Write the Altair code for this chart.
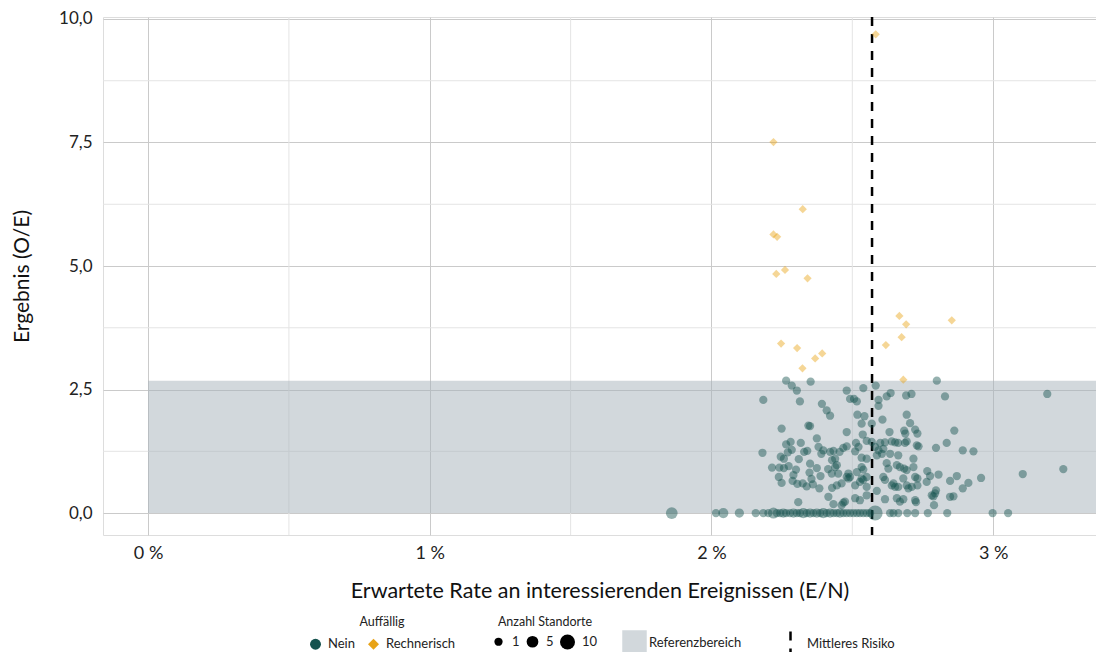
import altair as alt
import pandas as pd

FONT = "Lato"
TEAL = "#15524E"
ORANGE = "#E8A317"
BAND = "#A6B1BA"

# ---- data (x = expected rate in %, y = O/E) ----
nein_upper = [
    (2.265, 2.68), (2.285, 2.58), (2.303, 2.48), (2.352, 2.66), (2.184, 2.29), (2.314, 2.26),
    (2.392, 2.21), (2.409, 2.08), (2.421, 1.97), (2.249, 1.71), (2.344, 1.77), (2.350, 1.76),
    (2.374, 1.51), (2.480, 2.48), (2.539, 2.53), (2.583, 2.58), (2.492, 2.31), (2.506, 2.31),
    (2.516, 2.26), (2.593, 2.29), (2.593, 2.17), (2.622, 2.36), (2.636, 2.43), (2.691, 2.38),
    (2.710, 2.41), (2.800, 2.68), (2.829, 2.36), (3.192, 2.41), (2.518, 1.99), (2.543, 1.96),
    (2.607, 1.89), (2.693, 1.99), (2.705, 1.82), (2.533, 1.81), (2.569, 1.81), (2.480, 1.64),
    (2.537, 1.59), (2.632, 1.64), (2.684, 1.67), (2.688, 1.61), (2.723, 1.69), (2.731, 1.61),
    (2.862, 1.67),
]
nein_middle = [
    (2.265, 1.39), (2.281, 1.44), (2.317, 1.42), (2.181, 1.22), (2.271, 1.23), (2.285, 1.28),
    (2.329, 1.24), (2.340, 1.26), (2.390, 1.20), (2.433, 1.26), (2.246, 1.14), (2.257, 1.10),
    (2.310, 1.09), (2.428, 1.07), (2.380, 1.34), (2.397, 1.27), (2.421, 1.24), (2.455, 1.24),
    (2.468, 1.32), (2.480, 1.35), (2.510, 1.25), (2.513, 1.42), (2.522, 1.34), (2.551, 1.46),
    (2.569, 1.44), (2.581, 1.34), (2.593, 1.27), (2.610, 1.30), (2.605, 1.20), (2.599, 1.42),
    (2.616, 1.43), (2.640, 1.45), (2.652, 1.43), (2.663, 1.42), (2.687, 1.42), (2.693, 1.45),
    (2.729, 1.37), (2.735, 1.35), (2.835, 1.42), (2.797, 1.32), (2.892, 1.27), (2.930, 1.25),
    (2.533, 1.12), (2.551, 1.10), (2.663, 1.17), (2.717, 1.10), (2.439, 1.10), (2.622, 1.01),
    (2.587, 1.17), (2.634, 1.20),
]
nein_lower = [
    (2.215, 0.92), (2.241, 0.92), (2.257, 0.91), (2.274, 0.95), (2.300, 0.88), (2.348, 0.82),
    (2.374, 0.91), (2.387, 0.75), (2.414, 0.89), (2.439, 0.93), (2.239, 0.73), (2.291, 0.77),
    (2.355, 0.69), (2.249, 0.61), (2.288, 0.65), (2.305, 0.59), (2.324, 0.60), (2.338, 0.54),
    (2.360, 0.58), (2.383, 0.50), (2.428, 0.51), (2.350, 1.00), (2.427, 0.80), (2.450, 0.80),
    (2.486, 0.80), (2.492, 0.73), (2.516, 0.83), (2.533, 0.93), (2.551, 0.73), (2.462, 0.60),
    (2.510, 0.56), (2.527, 0.63), (2.551, 0.53), (2.445, 0.56), (2.445, 0.97), (2.628, 0.90),
    (2.658, 0.97), (2.669, 0.93), (2.684, 0.90), (2.693, 0.87), (2.717, 0.93), (2.539, 0.88),
    (2.766, 0.85), (2.776, 0.75), (2.806, 0.78), (3.105, 0.79), (3.249, 0.89), (2.847, 0.65),
    (2.871, 0.75), (2.957, 0.71), (2.912, 0.61), (2.892, 0.50), (2.480, 0.73), (2.486, 0.70),
    (2.533, 0.70), (2.539, 0.67), (2.610, 0.73), (2.616, 0.67), (2.640, 0.56), (2.646, 0.60),
    (2.652, 0.53), (2.663, 0.53), (2.693, 0.56), (2.711, 0.53), (2.731, 0.56), (2.731, 0.70),
    (2.723, 0.73), (2.681, 0.70), (2.764, 0.63), (2.794, 0.40), (2.699, 0.50),
]
nein_bottom = [
    (2.415, 0.33), (2.308, 0.22), (2.433, 0.18), (2.474, 0.23), (2.510, 0.30), (2.527, 0.26),
    (2.551, 0.36), (2.587, 0.45), (2.616, 0.28), (2.658, 0.30), (2.669, 0.23), (2.681, 0.28),
    (2.723, 0.26), (2.726, 0.22), (2.782, 0.36), (2.788, 0.34), (2.797, 0.46), (2.847, 0.33),
    (2.859, 0.34), (2.790, 0.16), (2.462, 0.16), (2.468, 0.21),
]
# sites with O/E = 0: (rate, number of sites)
nein_zero = [
    (1.859, 5), (2.016, 1), (2.042, 3), (2.099, 2), (2.157, 1), (2.184, 1), (2.202, 1),
    (2.220, 4), (2.232, 1), (2.244, 1), (2.255, 2), (2.265, 1), (2.279, 1), (2.291, 2),
    (2.303, 1), (2.314, 1), (2.326, 3), (2.338, 1), (2.350, 2), (2.362, 1), (2.374, 2),
    (2.386, 1), (2.397, 3), (2.409, 1), (2.421, 2), (2.433, 1), (2.445, 1), (2.456, 2),
    (2.468, 1), (2.480, 1), (2.492, 1), (2.504, 1), (2.516, 1), (2.527, 1), (2.539, 1),
    (2.551, 1), (2.563, 1), (2.581, 10), (2.634, 1), (2.646, 1), (2.663, 1), (2.695, 1),
    (2.723, 1), (2.768, 1), (2.837, 1), (2.998, 1), (3.053, 1),
]
rechnerisch = [
    (2.583, 9.69), (2.220, 7.51), (2.324, 6.15), (2.220, 5.64), (2.233, 5.59), (2.230, 4.84),
    (2.261, 4.92), (2.341, 4.75), (2.667, 3.99), (2.691, 3.82), (2.853, 3.90), (2.675, 3.56),
    (2.619, 3.40), (2.247, 3.43), (2.304, 3.34), (2.393, 3.23), (2.368, 3.13), (2.323, 2.93),
    (2.681, 2.70),
]
mittleres_risiko = [2.57]
referenz_oben = 2.68
x_major = [0, 1, 2, 3]
x_minor = [0.5, 1.5, 2.5]
y_major = [0, 2.5, 5, 7.5, 10]
y_minor = [1.25, 3.75, 6.25, 8.75]
x_domain = [-0.160, 3.365]
y_domain = [-0.444, 10.04]

rows = []
for grp in (nein_upper, nein_middle, nein_lower, nein_bottom):
    for x, y in grp:
        rows.append({"rate": x, "oe": y, "n": 1, "auff": "Nein"})
for x, n in nein_zero:
    rows.append({"rate": x, "oe": 0.0, "n": n, "auff": "Nein"})
for x, y in rechnerisch:
    rows.append({"rate": x, "oe": y, "n": 1, "auff": "Rechnerisch"})
pts = pd.DataFrame(rows)

xs = alt.Scale(domain=x_domain, nice=False, zero=False)
ys = alt.Scale(domain=y_domain, nice=False, zero=False)

x_axis = alt.Axis(
    values=x_major, labelExpr="datum.value + ' %'",
    title="Erwartete Rate an interessierenden Ereignissen (E/N)",
    grid=True, gridColor="#CACACA", domain=False, ticks=False,
    labelFontSize=18, titleFontSize=21.5, labelPadding=9, titlePadding=18,
    labelFont=FONT, titleFont=FONT, titleFontWeight="normal",
    labelColor="#222222", titleColor="#111111",
)
y_axis = alt.Axis(
    values=y_major, labelExpr="replace(format(datum.value, '.1f'), '.', ',')",
    title="Ergebnis (O/E)",
    grid=True, gridColor="#CACACA", domain=False, ticks=False,
    labelFontSize=17, titleFontSize=21, labelPadding=11, titlePadding=26,
    labelFont=FONT, titleFont=FONT, titleFontWeight="normal",
    labelColor="#222222", titleColor="#111111",
)


def X(field):
    return alt.X(f"{field}:Q", scale=xs, axis=x_axis)


def Y(field):
    return alt.Y(f"{field}:Q", scale=ys, axis=y_axis)


leg_base = dict(
    orient="none", padding=0, labelFont=FONT, labelFontSize=13,
    labelColor="#222222", direction="horizontal",
)
leg_titled = dict(
    leg_base, titleFont=FONT, titleFontSize=12.5, titleFontWeight="normal",
    titleColor="#222222", titleAnchor="middle",
)

minor_x = alt.Chart(pd.DataFrame({"rate": x_minor})).mark_rule(
    color="#E4E4E4", strokeWidth=1
).encode(x=X("rate"))
minor_y = alt.Chart(pd.DataFrame({"oe": y_minor})).mark_rule(
    color="#E4E4E4", strokeWidth=1
).encode(y=Y("oe"))

band = alt.Chart(pd.DataFrame({
    "rate": [0.0], "rate2": [x_domain[1]], "oe": [0.0], "oe2": [referenz_oben],
    "lab": ["Referenzbereich"],
})).mark_rect(opacity=0.5).encode(
    x=X("rate"), x2="rate2", y=Y("oe"), y2="oe2",
    fill=alt.Fill(
        "lab:N",
        scale=alt.Scale(domain=["Referenzbereich"], range=[BAND]),
        legend=alt.Legend(
            title=None, legendX=519, legendY=613, symbolType="square",
            symbolSize=600, symbolOpacity=0.5, symbolStrokeWidth=0,
            labelOffset=2, **leg_base
        ),
    ),
)

risk = alt.Chart(pd.DataFrame({
    "rate": mittleres_risiko, "lab": ["Mittleres Risiko"]
})).mark_rule(color="black", strokeWidth=2.5).encode(
    x=X("rate"),
    strokeDash=alt.StrokeDash(
        "lab:N",
        scale=alt.Scale(domain=["Mittleres Risiko"], range=[[9, 8]]),
        legend=alt.Legend(
            title=None, legendX=674, legendY=613, symbolType="M0,-1L0,1",
            symbolSize=576, symbolStrokeColor="black", symbolStrokeWidth=2.5,
            symbolFillColor="transparent", labelOffset=3, **leg_base
        ),
    ),
)

leg_auff = alt.Legend(
    title="Auffällig", legendX=206, legendY=599, symbolOpacity=1, symbolSize=120,
    symbolStrokeWidth=0, titlePadding=9, columnPadding=12, labelOffset=6,
    **leg_titled
)
points = alt.Chart(pts).mark_point(filled=True, opacity=0.45, strokeWidth=0).encode(
    x=X("rate"), y=Y("oe"),
    color=alt.Color("auff:N", scale=alt.Scale(domain=["Nein", "Rechnerisch"],
                                              range=[TEAL, ORANGE]), legend=leg_auff),
    shape=alt.Shape("auff:N", scale=alt.Scale(domain=["Nein", "Rechnerisch"],
                                              range=["circle", "diamond"]), legend=leg_auff),
    size=alt.Size("n:Q", scale=alt.Scale(domain=[1, 10], range=[68, 225]),
                  legend=alt.Legend(
                      title="Anzahl Standorte", values=[1, 5, 10], legendX=389,
                      legendY=599, symbolType="circle", symbolFillColor="black",
                      symbolStrokeColor="black", symbolStrokeWidth=0,
                      symbolOpacity=1, titlePadding=6, columnPadding=6,
                      labelOffset=7, **leg_titled)),
)

chart = alt.layer(minor_x, minor_y, band, risk, points).properties(
    width=993, height=518, autosize="none",
    padding={"left": 95, "top": 9, "right": 0, "bottom": 117},
).configure_view(stroke=None).configure(background="white")

chart.save("out.html", embed_options={"renderer": "svg", "actions": False})
